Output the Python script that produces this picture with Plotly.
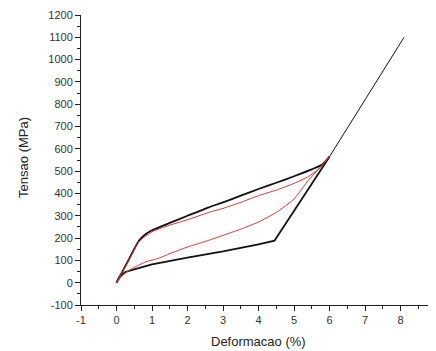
import plotly.graph_objects as go

# Black cycle: loading branch
load_black_x = [0, 0.3, 0.64, 0.8, 1.0, 1.5, 2.0, 2.6, 3.0, 3.5, 4.0, 4.5, 5.0, 5.5, 5.8, 6.0]
load_black_y = [0, 90, 190, 215, 235, 268, 300, 338, 360, 390, 420, 448, 477, 508, 530, 565]
# Black cycle: unloading branch
unload_black_x = [6.0, 4.45, 4.0, 3.0, 2.0, 1.0, 0.5, 0.25, 0.1, 0]
unload_black_y = [565, 188, 172, 140, 112, 82, 60, 48, 30, 0]
# Red cycle: loading branch
load_red_x = [0, 0.3, 0.64, 1.0, 1.5, 2.0, 2.6, 3.0, 3.5, 4.0, 4.5, 5.0, 5.4, 5.7, 6.0]
load_red_y = [0, 85, 185, 228, 258, 282, 315, 333, 360, 390, 415, 445, 475, 510, 565]
# Red cycle: unloading branch
unload_red_x = [6.0, 5.7, 5.4, 5.0, 4.5, 4.0, 3.5, 3.0, 2.6, 2.0, 1.5, 1.2, 0.8, 0.4, 0.15, 0]
unload_red_y = [565, 510, 458, 375, 315, 272, 240, 212, 190, 160, 130, 110, 92, 60, 30, 0]
# Final loading to rupture
final_x = [6.0, 8.1]
final_y = [565, 1100]

# Tick labels
x_ticks = [-1, 0, 1, 2, 3, 4, 5, 6, 7, 8, 9]
x_tick_labels = ["-1", "0", "1", "2", "3", "4", "5", "6", "7", "8", "9"]
y_ticks = [-100, 0, 100, 200, 300, 400, 500, 600, 700, 800, 900, 1000, 1100, 1200]
y_tick_labels = ["-100", "0", "100", "200", "300", "400", "500", "600",
                 "700", "800", "900", "1000", "1100", "1200"]
x_title = "Deformacao (%)"
y_title = "Tensao (MPa)"

fig = go.Figure()
fig.add_trace(go.Scatter(x=load_black_x, y=load_black_y, mode="lines",
                         line=dict(color="#111111", width=1.8, shape="spline", smoothing=0.5)))
fig.add_trace(go.Scatter(x=unload_black_x, y=unload_black_y, mode="lines",
                         line=dict(color="#111111", width=1.8)))
fig.add_trace(go.Scatter(x=load_red_x, y=load_red_y, mode="lines",
                         line=dict(color="#cc3a33", width=1, shape="spline", smoothing=0.5)))
fig.add_trace(go.Scatter(x=unload_red_x, y=unload_red_y, mode="lines",
                         line=dict(color="#cc3a33", width=1, shape="spline", smoothing=0.5)))
fig.add_trace(go.Scatter(x=final_x, y=final_y, mode="lines",
                         line=dict(color="#111111", width=1)))

axis_font = dict(family="Liberation Sans, Arial, sans-serif", size=11, color="#333333")
title_font = dict(family="Liberation Sans, Arial, sans-serif", size=13, color="#222222")
# The page body has an 8px margin, so the figure is sized to fill the rest of the window.
fig.update_layout(
    width=428, height=343,
    margin=dict(l=73, r=0, t=7, b=46),
    paper_bgcolor="white", plot_bgcolor="white",
    showlegend=False,
    font=axis_font,
    annotations=[
        dict(text=x_title, xref="paper", yref="paper", x=0.5, y=-0.127,
             xanchor="center", yanchor="middle", showarrow=False, font=title_font),
        dict(text=y_title, xref="paper", yref="paper", x=-0.164, y=0.51,
             xanchor="center", yanchor="middle", showarrow=False, textangle=-90,
             font=title_font),
    ],
)
fig.update_xaxes(
    range=[-1, 9], tickvals=x_ticks, ticktext=x_tick_labels,
    showgrid=False, zeroline=False, automargin=False,
    showline=True, linecolor="#222222", linewidth=1,
    ticks="outside", ticklen=5, tickcolor="#222222",
    minor=dict(dtick=0.5, tick0=0, ticks="outside", ticklen=3, tickcolor="#222222", showgrid=False),
    tickfont=axis_font,
)
fig.update_yaxes(
    range=[-100, 1200], tickvals=y_ticks, ticktext=y_tick_labels,
    showgrid=False, zeroline=False, automargin=False,
    showline=True, linecolor="#222222", linewidth=1,
    ticks="outside", ticklen=5, tickcolor="#222222",
    minor=dict(dtick=50, tick0=0, ticks="outside", ticklen=3, tickcolor="#222222", showgrid=False),
    tickfont=axis_font,
)
fig.write_html("out.html")
